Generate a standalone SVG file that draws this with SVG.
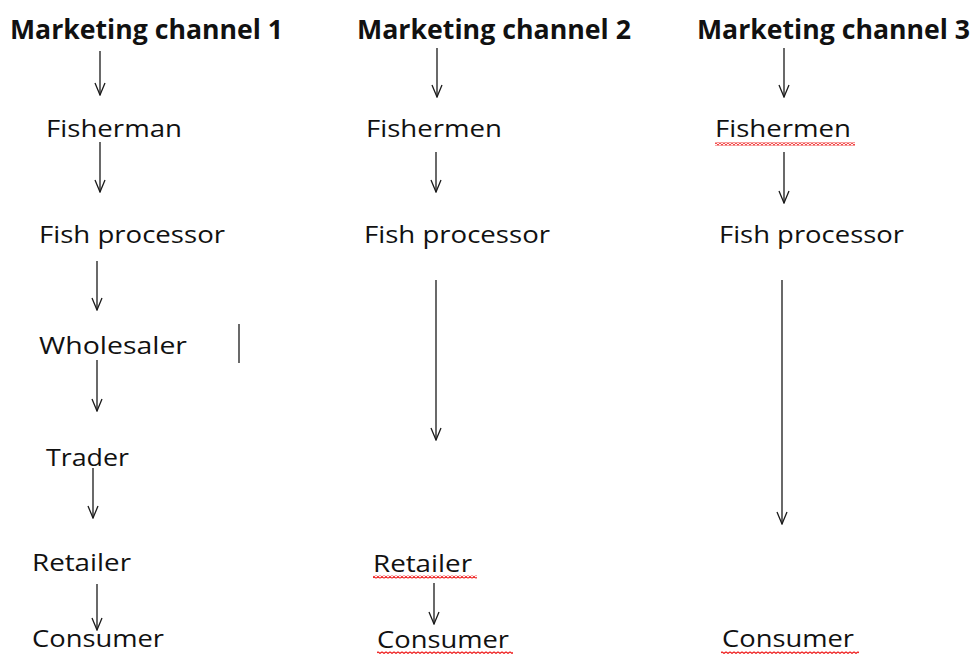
<svg xmlns="http://www.w3.org/2000/svg" width="973" height="654" viewBox="0 0 973 654">
<defs>
<style>
.h{font-family:"Open Sans","Liberation Sans",sans-serif;font-weight:bold;font-size:26px;fill:#111}
.t{font-family:"Open Sans","Liberation Sans",sans-serif;font-size:23.5px;fill:#111}
.a{stroke:#1a1a1a;stroke-width:1.3;fill:none;marker-end:url(#ah)}
.l{stroke:#1a1a1a;stroke-width:1.3;fill:none}
.sq{fill:url(#wave)}
</style>
<marker id="ah" markerUnits="userSpaceOnUse" markerWidth="14" markerHeight="12" viewBox="0 0 14 12" refX="13" refY="6" orient="auto">
<path d="M1,1 L13,6 L1,11" fill="none" stroke="#1a1a1a" stroke-width="1.3"/>
</marker>
<pattern id="wave" patternUnits="userSpaceOnUse" width="4" height="3">
<path d="M0,2.5 L2,0.5 L4,2.5" fill="none" stroke="#ee1111" stroke-width="1.2"/>
</pattern>
</defs>
<rect width="973" height="654" fill="#fff"/>
<g id="connectors">
<line class="a" x1="100" y1="51" x2="100" y2="95"/>
<line class="a" x1="100" y1="142" x2="100" y2="192"/>
<line class="a" x1="97" y1="261" x2="97" y2="310"/>
<line class="l" x1="239" y1="324" x2="239" y2="363"/>
<line class="a" x1="97" y1="360" x2="97" y2="411"/>
<line class="a" x1="93" y1="468" x2="93" y2="518"/>
<line class="a" x1="97" y1="584" x2="97" y2="630"/>
<line class="a" x1="437" y1="48" x2="437" y2="97"/>
<line class="a" x1="436" y1="152" x2="436" y2="192"/>
<line class="a" x1="436" y1="280" x2="436" y2="440"/>
<line class="a" x1="434" y1="583" x2="434" y2="624"/>
<line class="a" x1="784" y1="48" x2="784" y2="97"/>
<line class="a" x1="784" y1="152" x2="784" y2="203"/>
<line class="a" x1="782" y1="280" x2="782" y2="524"/>
</g>
<g id="ch1-header"><text class="h" x="10" y="39" textLength="273" lengthAdjust="spacingAndGlyphs">Marketing channel 1</text></g>
<g id="ch2-header"><text class="h" x="357" y="39" textLength="274" lengthAdjust="spacingAndGlyphs">Marketing channel 2</text></g>
<g id="ch3-header"><text class="h" x="697" y="39" textLength="273" lengthAdjust="spacingAndGlyphs">Marketing channel 3</text></g>
<g id="ch1-fisherman"><text class="t" x="46" y="137" textLength="136" lengthAdjust="spacingAndGlyphs">Fisherman</text></g>
<g id="ch1-processor"><text class="t" x="39" y="243" textLength="186" lengthAdjust="spacingAndGlyphs">Fish processor</text></g>
<g id="ch1-wholesaler"><text class="t" x="39" y="354" textLength="148" lengthAdjust="spacingAndGlyphs">Wholesaler</text></g>
<g id="ch1-trader"><text class="t" x="46" y="466" textLength="83" lengthAdjust="spacingAndGlyphs">Trader</text></g>
<g id="ch1-retailer"><text class="t" x="32" y="571" textLength="99" lengthAdjust="spacingAndGlyphs">Retailer</text></g>
<g id="ch1-consumer"><text class="t" x="32" y="647" textLength="132" lengthAdjust="spacingAndGlyphs">Consumer</text></g>
<g id="ch2-fishermen"><text class="t" x="366" y="137" textLength="136" lengthAdjust="spacingAndGlyphs">Fishermen</text></g>
<g id="ch2-processor"><text class="t" x="364" y="243" textLength="186" lengthAdjust="spacingAndGlyphs">Fish processor</text></g>
<g id="ch2-retailer"><text class="t" x="373" y="572" textLength="99" lengthAdjust="spacingAndGlyphs">Retailer</text><rect class="sq" x="373" y="575.5" width="104" height="3"/></g>
<g id="ch2-consumer"><text class="t" x="377" y="648" textLength="132" lengthAdjust="spacingAndGlyphs">Consumer</text><rect class="sq" x="377" y="651.5" width="136" height="3"/></g>
<g id="ch3-fishermen"><text class="t" x="715" y="137" textLength="136" lengthAdjust="spacingAndGlyphs">Fishermen</text><rect class="sq" x="715" y="142.5" width="140" height="3"/></g>
<g id="ch3-processor"><text class="t" x="719" y="243" textLength="185" lengthAdjust="spacingAndGlyphs">Fish processor</text></g>
<g id="ch3-consumer"><text class="t" x="722" y="647" textLength="132" lengthAdjust="spacingAndGlyphs">Consumer</text><rect class="sq" x="721" y="651.5" width="138" height="3"/></g>
</svg>
